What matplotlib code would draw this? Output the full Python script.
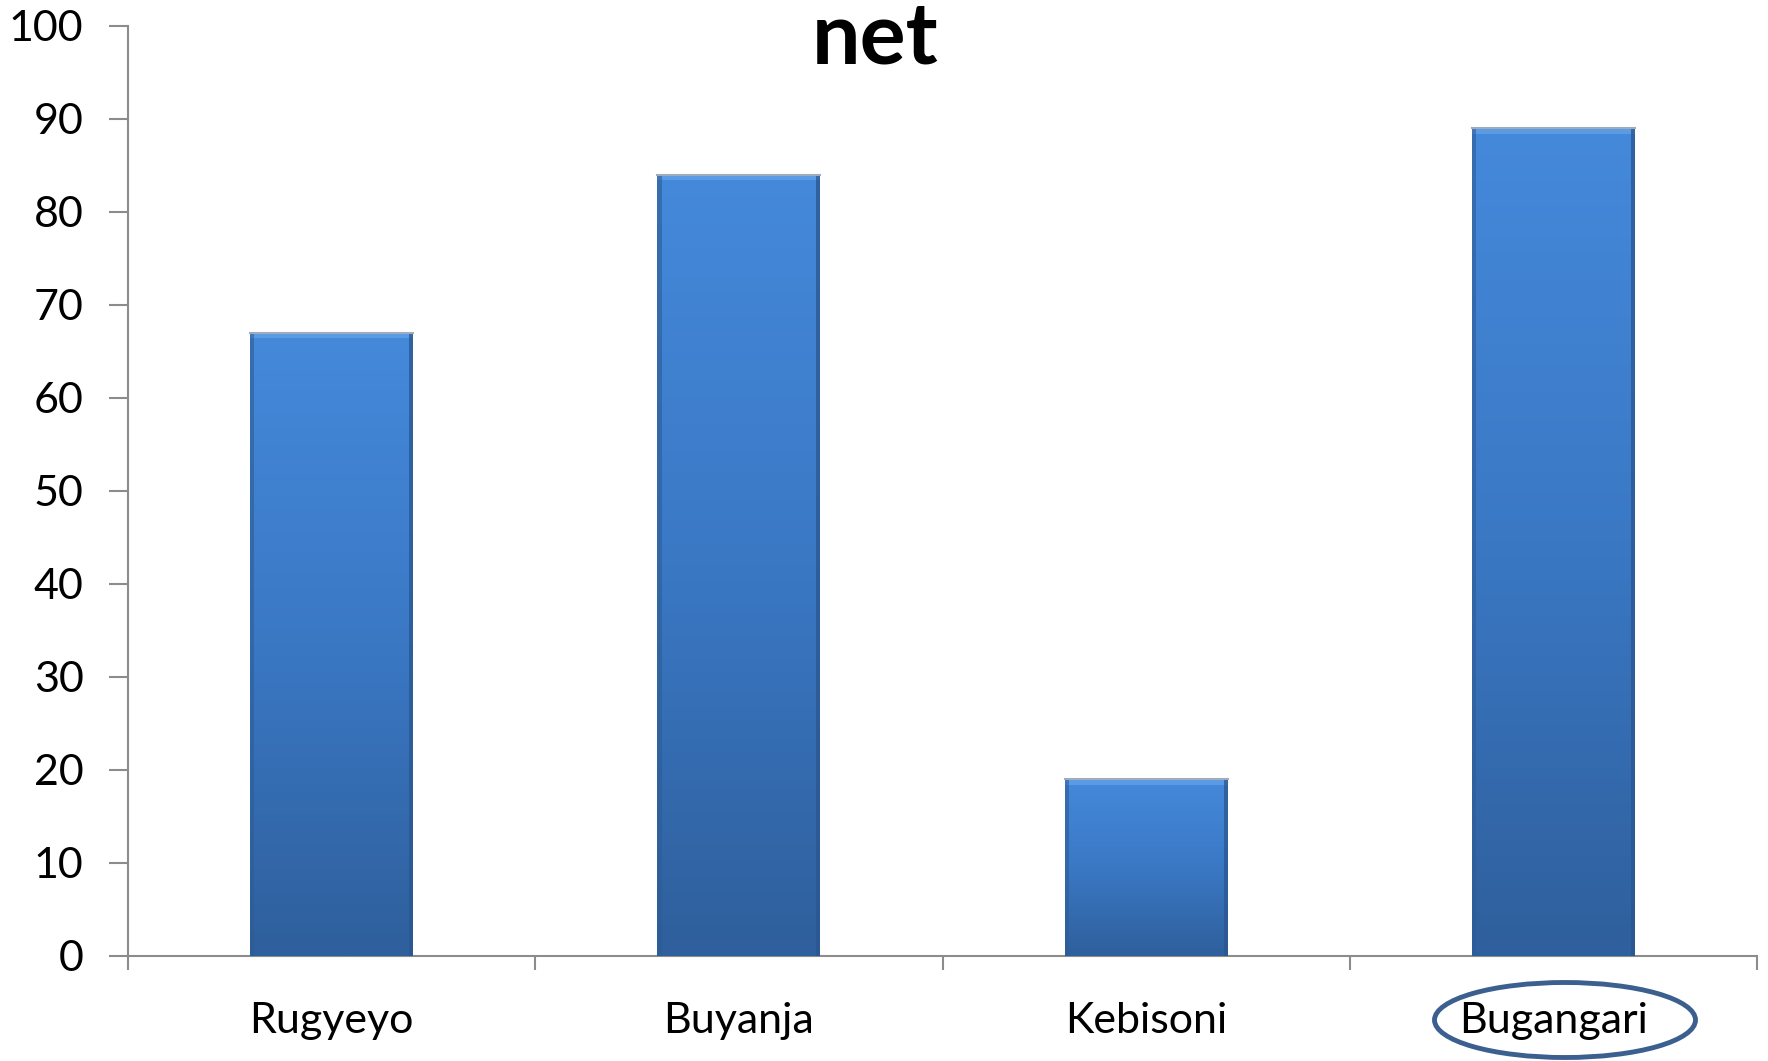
import numpy as np
import matplotlib.pyplot as plt
from matplotlib.patches import Ellipse, Rectangle
from matplotlib.colors import LinearSegmentedColormap

plt.rcParams['font.family'] = ['Lato', 'DejaVu Sans']

# data
villages = ['Rugyeyo', 'Buyanja', 'Kebisoni', 'Bugangari']
net_pct = [67, 84, 19, 89]
y_ticks = [0, 10, 20, 30, 40, 50, 60, 70, 80, 90, 100]

fig = plt.figure(figsize=(17.68, 10.61), dpi=100)
ax = fig.add_axes([0.0724, 0.099, 0.9214, 0.8765])

x = np.arange(len(villages))
w = 0.4
grad = LinearSegmentedColormap.from_list('bar', ['#2f5f9c', '#3a78c4', '#4589db'])
g = np.linspace(0, 1, 256).reshape(-1, 1)

bars = ax.bar(x, net_pct, width=w, color='#3a78c4', edgecolor='none', zorder=2)
for xi, v in zip(x, net_pct):
    ax.imshow(g, cmap=grad, aspect='auto', origin='lower',
              extent=(xi - w / 2, xi + w / 2, 0, v), zorder=3)
    # bevelled edges
    ax.add_patch(Rectangle((xi - w / 2, v - 0.6), w, 0.6, color='#5b9be6', lw=0, zorder=4))
    ax.add_patch(Rectangle((xi - w / 2, 0), 0.01, v, color='#2d5c96', lw=0, alpha=0.6, zorder=4))
    ax.add_patch(Rectangle((xi + w / 2 - 0.01, 0), 0.01, v, color='#2a5690', lw=0, alpha=0.75, zorder=4))
    ax.plot([xi - w / 2, xi + w / 2], [v, v], color='#a0acbb', lw=1.5, zorder=5)

ax.set_xlim(-0.5, len(villages) - 0.5)
ax.set_ylim(0, 100)
ax.set_yticks(y_ticks)
ax.set_xticks(x)
ax.set_xticklabels(villages)
ax.set_xticks(np.arange(-0.5, len(villages)), minor=True)

for s in ['top', 'right']:
    ax.spines[s].set_visible(False)
for s in ['left', 'bottom']:
    ax.spines[s].set_color('#8c8c8c')
    ax.spines[s].set_linewidth(1.5)

ax.tick_params(axis='y', length=14, width=1.5, color='#8c8c8c', labelsize=31, pad=18)
ax.tick_params(axis='x', which='major', length=0, labelsize=31, pad=33)
ax.tick_params(axis='x', which='minor', length=10, width=1.5, color='#8c8c8c')

fig.text(875 / 1768, 1.0, 'net', ha='center', va='top', fontsize=62, fontweight='bold')

# circle the last village label
ell = Ellipse((1565 / 1768, 1 - 1020 / 1061), 261 / 1768, 75 / 1061,
              transform=fig.transFigure, fill=False, edgecolor='#3b5f8e', lw=3.5)
fig.patches.append(ell)

fig.savefig('out.png', dpi=100)
